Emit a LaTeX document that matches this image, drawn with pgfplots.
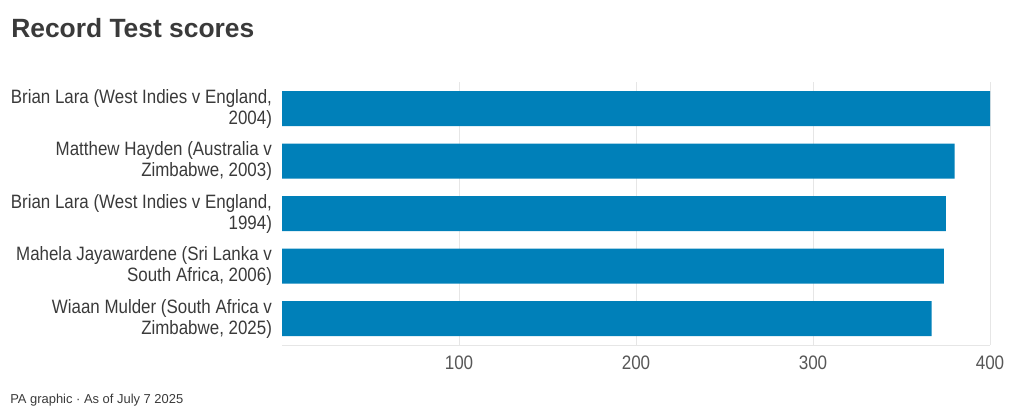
\documentclass[border=0pt]{standalone}
\usepackage{pgfplots}
\pgfplotsset{compat=1.18}
\usepackage{fontspec}
\setmainfont{Liberation Sans}
\newfontfamily\narrowfont[FakeStretch=0.875]{Liberation Sans}
\definecolor{barblue}{HTML}{0080B9}
\definecolor{labgray}{HTML}{3A3A3A}
\definecolor{gridgray}{HTML}{E6E6E6}
\begin{document}
\begin{tikzpicture}[x=0.75pt,y=0.75pt]
\path[use as bounding box] (0,0) rectangle (1020,420);
\node[anchor=base west, font=\bfseries\fontsize{19.8}{22}\selectfont, text=labgray, inner sep=0pt] at (11,382) {Record Test scores};
\node[anchor=base west, font=\fontsize{9.7}{11}\selectfont, text=labgray, inner sep=0pt] at (10,16) {PA graphic · As of July 7 2025};
\begin{axis}[
  at={(211.5pt,56.25pt)}, anchor=south west,
  scale only axis, width=531pt, height=196.9pt,
  xbar, bar width=26.25pt,
  xmin=0, xmax=400,
  ymin=-0.5, ymax=4.5, y dir=reverse,
  ytick={0,1,2,3,4},
  yticklabels={{Brian Lara (West Indies v England,\\2004)},
               {Matthew Hayden (Australia v\\Zimbabwe, 2003)},
               {Brian Lara (West Indies v England,\\1994)},
               {Mahela Jayawardene (Sri Lanka v\\South Africa, 2006)},
               {Wiaan Mulder (South Africa v\\Zimbabwe, 2025)}},
  yticklabel style={align=right, font=\narrowfont\fontsize{14.5}{15.6}\selectfont, text=labgray, xshift=-4pt},
  xtick={100,200,300,400},
  xticklabel style={font=\narrowfont\fontsize{14.6}{16}\selectfont, text=labgray!85, yshift=-5pt},
  /pgf/number format/assume math mode=true,
  major tick length=0pt,
  xmajorgrids, grid style={gridgray, line width=0.6pt},
  axis x line*=bottom,
  axis y line*=left,
  x axis line style={gridgray, line width=0.6pt, -},
  y axis line style={draw=none},
  clip=false,
]
\addplot[fill=barblue, draw=none] coordinates {(400,0) (380,1) (375,2) (374,3) (367,4)};
\end{axis}
\end{tikzpicture}
\end{document}
